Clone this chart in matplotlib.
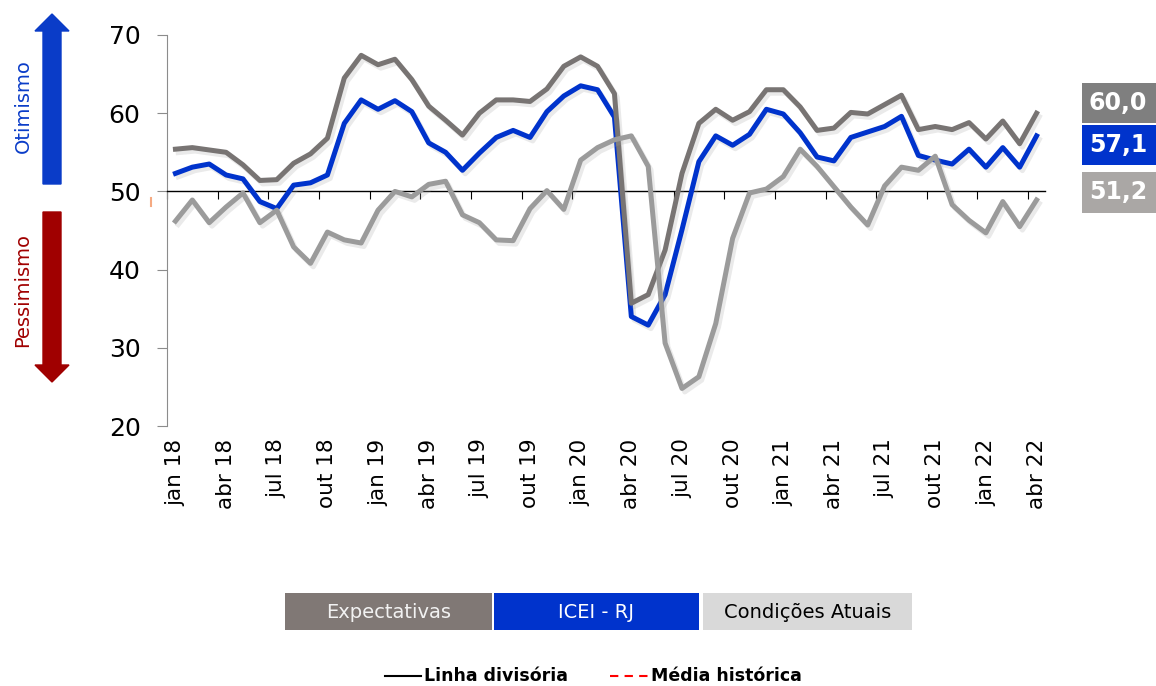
import numpy as np
import matplotlib
matplotlib.use("Agg")
import matplotlib.pyplot as plt
import matplotlib.patheffects as pe
from matplotlib.patches import Rectangle, FancyArrow
from matplotlib.lines import Line2D

plt.rcParams['font.family'] = ['DejaVu Sans']

# monthly series, jan 18 .. abr 22
months = ["jan 18", "abr 18", "jul 18", "out 18", "jan 19", "abr 19", "jul 19", "out 19",
          "jan 20", "abr 20", "jul 20", "out 20", "jan 21", "abr 21", "jul 21", "out 21",
          "jan 22", "abr 22"]

expectativas = [55.4, 55.6, 55.3, 55.0, 53.4, 51.4, 51.5, 53.6, 54.8, 56.8,
                64.5, 67.4, 66.2, 66.9, 64.3, 60.9, 59.1, 57.2, 60.0, 61.7,
                61.7, 61.5, 63.1, 66.0, 67.2, 66.0, 62.5, 35.7, 36.8, 42.5,
                52.3, 58.7, 60.5, 59.1, 60.2, 63.0, 63.0, 60.8, 57.8, 58.1,
                60.1, 59.9, 61.1, 62.3, 57.9, 58.3, 57.9, 58.8, 56.7, 59.0,
                56.1, 60.0]

icei = [52.3, 53.1, 53.5, 52.1, 51.6, 48.7, 47.8, 50.8, 51.1, 52.1,
        58.7, 61.7, 60.5, 61.6, 60.2, 56.2, 55.0, 52.7, 54.9, 56.9,
        57.8, 56.9, 60.2, 62.2, 63.5, 63.0, 59.5, 34.0, 32.9, 36.8,
        45.1, 53.8, 57.1, 55.9, 57.3, 60.5, 59.9, 57.5, 54.4, 53.9,
        56.9, 57.6, 58.3, 59.6, 54.6, 54.0, 53.5, 55.4, 53.1, 55.6,
        53.1, 57.1]

condicoes = [46.2, 48.9, 46.0, 48.0, 49.8, 46.0, 47.6, 42.9, 40.8, 44.8,
             43.8, 43.4, 47.6, 50.0, 49.3, 50.9, 51.3, 47.0, 46.0, 43.8,
             43.7, 47.8, 50.1, 47.7, 54.0, 55.6, 56.6, 57.1, 53.2, 30.6,
             24.8, 26.3, 33.1, 44.0, 49.8, 50.3, 51.9, 55.4, 53.2, 50.6,
             48.0, 45.7, 50.7, 53.1, 52.7, 54.5, 48.3, 46.3, 44.7, 48.7,
             45.5, 48.9]

last_labels = ["60,0", "57,1", "51,2"]

C_EXP = "#787473"
C_ICEI = "#0033cc"
C_COND = "#9b9b9b"

W, H = 1156, 686
fig = plt.figure(figsize=(W / 100, H / 100), dpi=100)
ax = fig.add_axes([167 / W, 1 - 426 / H, (1045 - 167) / W, (426 - 35) / H])

x = np.arange(len(icei))
shadow = [pe.SimpleLineShadow(offset=(2, -2.5), shadow_color="#a0a0a0", alpha=0.22),
          pe.Normal()]
ax.plot(x, icei, color=C_ICEI, lw=3.6, solid_joinstyle="round", zorder=3, path_effects=shadow)
ax.plot(x, expectativas, color=C_EXP, lw=3.6, solid_joinstyle="round", zorder=4, path_effects=shadow)
ax.plot(x, condicoes, color=C_COND, lw=3.6, solid_joinstyle="round", zorder=5, path_effects=shadow)

ax.set_xlim(-0.5, len(x) - 0.5)
ax.set_ylim(20, 70)

for s in ["top", "right"]:
    ax.spines[s].set_visible(False)
ax.spines["left"].set_color("#8c8c8c")
ax.spines["bottom"].set_position(("data", 50))
ax.spines["bottom"].set_color("black")
ax.spines["bottom"].set_linewidth(1.0)

ax.set_xticks(np.arange(-0.5, len(x) - 0.5, 3))
ax.tick_params(axis="x", direction="out", length=6, color="black", labelbottom=False)
ax.set_yticks(range(20, 71, 10))
ax.tick_params(axis="y", direction="out", length=7, color="#8c8c8c", pad=12, labelsize=18)

sec = ax.secondary_xaxis(0.0)
sec.set_xticks(x[::3], labels=months)
sec.tick_params(length=0, pad=9, labelsize=15.5, labelrotation=90)
sec.spines["bottom"].set_visible(False)

# tiny mark left of the axis
fig.add_artist(Line2D([151 / W, 151 / W], [1 - 206 / H, 1 - 198 / H],
                      transform=fig.transFigure, color="#f5aa82", lw=1.5))

# arrows and side texts
px = fig.dpi_scale_trans
fig.add_artist(FancyArrow(0.52, (H - 184) / 100, 0, 1.70, width=0.18, head_width=0.34,
                          head_length=0.17, length_includes_head=True,
                          color="#0a3cc8", transform=px))
fig.add_artist(FancyArrow(0.52, (H - 212) / 100, 0, -1.70, width=0.18, head_width=0.34,
                          head_length=0.17, length_includes_head=True,
                          color="#a00000", transform=px))
fig.text(23 / W, 1 - 106 / H, "Otimismo", rotation=90, ha="center", va="center",
         color="#0a3cc8", fontsize=14)
fig.text(23 / W, 1 - 290 / H, "Pessimismo", rotation=90, ha="center", va="center",
         color="#a00000", fontsize=14)

# last value boxes
boxes = [(83, 123, "#7f7f7f"), (125, 165, C_ICEI), (172, 213, "#aaa7a5")]
for (y0, y1, col), lab in zip(boxes, last_labels):
    fig.add_artist(Rectangle((1082 / W, 1 - y1 / H), (W - 1082) / W, (y1 - y0) / H,
                             transform=fig.transFigure, color=col, lw=0))
    fig.text(1118 / W, 1 - (y0 + y1) / 2 / H, lab, ha="center", va="center",
             color="white", fontsize=17, fontweight="bold")

# legend boxes
leg = [(285, 492, "#807875", "#f2f2f2", "Expectativas"),
       (494, 699, C_ICEI, "white", "ICEI - RJ"),
       (703, 912, "#d9d9d9", "black", "Condições Atuais")]
for x0, x1, col, tcol, lab in leg:
    fig.add_artist(Rectangle((x0 / W, 1 - 630 / H), (x1 - x0) / W, 37 / H,
                             transform=fig.transFigure, color=col, lw=0))
    fig.text((x0 + x1) / 2 / W, 1 - 612 / H, lab, ha="center", va="center",
             color=tcol, fontsize=14)

fig.add_artist(Line2D([385 / W, 421 / W], [1 - 676 / H] * 2, transform=fig.transFigure,
                      color="black", lw=1.5))
fig.text(424 / W, 1 - 676 / H, "Linha divisória", ha="left", va="center",
         fontsize=12.5, fontweight="bold")
fig.add_artist(Line2D([610 / W, 648 / W], [1 - 676 / H] * 2, transform=fig.transFigure,
                      color="red", lw=1.5, ls=(0, (4, 3))))
fig.text(651 / W, 1 - 676 / H, "Média histórica", ha="left", va="center",
         fontsize=12.5, fontweight="bold")

fig.savefig("out.png", dpi=100, facecolor="white")
